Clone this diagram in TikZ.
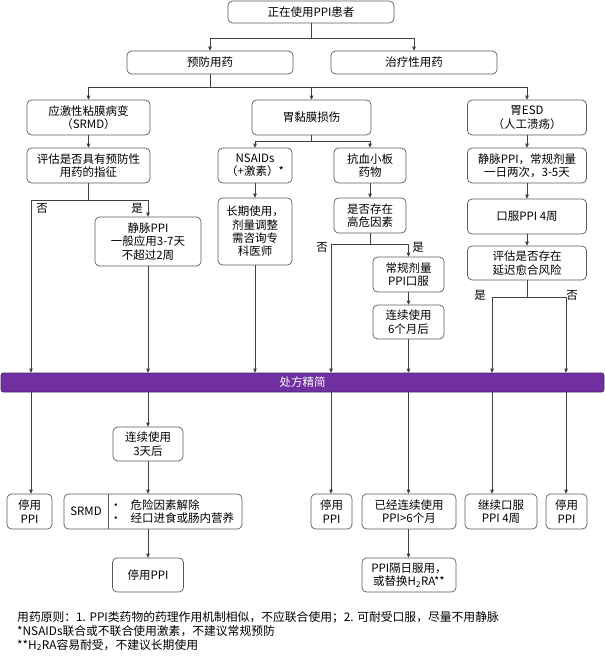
\documentclass[tikz,border=0pt]{standalone}
\usepackage{fontspec}
\setmainfont{Noto Sans CJK SC}
\usetikzlibrary{arrows.meta}
\definecolor{lnc}{HTML}{404040}
\definecolor{bdc}{HTML}{5A5A5A}
\definecolor{purp}{HTML}{7030A0}
\definecolor{purpd}{HTML}{4F2270}
\newcommand\bxfont{\fontsize{11.5}{13.4}\selectfont}
\newcommand\ftfont{\fontsize{11.8}{13.4}\selectfont}
\begin{document}
\begin{tikzpicture}[x=1pt,y=-1pt,
  box/.style={draw=bdc, line width=0.7pt, rounded corners=4.5pt, align=center, inner sep=0pt, font=\bxfont, text=black},
  lnk/.style={draw=lnc, line width=0.7pt},
  arr/.style={draw=lnc, line width=0.7pt, -{Triangle[length=4pt,width=3.6pt]}},
  lbl/.style={font=\bxfont, inner sep=0pt},
  foot/.style={font=\ftfont, inner sep=0pt, anchor=west}]
\useasboundingbox (0,0) rectangle (605,659);
% level 1-2
\node[box, minimum width=166pt, minimum height=22pt] (top) at (311,12) {正在使用PPI患者};
\node[box, minimum width=166pt, minimum height=23pt] (yf) at (210,62.5) {预防用药};
\node[box, minimum width=166pt, minimum height=23pt] (zl) at (414,62.5) {治疗性用药};
% level 3
\node[box, minimum width=123pt, minimum height=35pt] (srmd) at (88.5,117.5) {应激性粘膜病变\\（SRMD）};
\node[box, minimum width=119pt, minimum height=35pt] (wn) at (311.5,117.5) {胃黏膜损伤};
\node[box, minimum width=119pt, minimum height=35pt] (esd) at (527,117.5) {胃ESD\\（人工溃疡）};
% level 4
\node[box, minimum width=123pt, minimum height=35pt] (pg1) at (88.5,165.5) {评估是否具有预防性\\用药的指征};
\node[box, minimum width=74pt, minimum height=35pt] (nsaid) at (255,165.5) {NSAIDs\\（+激素）*};
\node[box, minimum width=72pt, minimum height=35pt] (kx) at (370,165.5) {抗血小板\\药物};
\node[box, minimum width=119pt, minimum height=35pt] (jm1) at (527,165.5) {静脉PPI，常规剂量\\一日两次，3-5天};
% level 5
\node[box, minimum width=106pt, minimum height=49pt] (jm2) at (148,241.5) {静脉PPI\\一般应用3-7天\\不超过2周};
\node[box, minimum width=74pt, minimum height=67pt] (cq) at (255,231.5) {长期使用，\\剂量调整\\需咨询专\\科医师};
\node[box, minimum width=72pt, minimum height=35pt] (gw) at (370,215.5) {是否存在\\高危因素};
\node[box, minimum width=119pt, minimum height=35pt] (kf) at (527,216.5) {口服PPI 4周};
\node[box, minimum width=71pt, minimum height=35pt] (cg) at (408.5,274.5) {常规剂量\\PPI口服};
\node[box, minimum width=71pt, minimum height=34pt] (lx6) at (408.5,322) {连续使用\\6个月后};
\node[box, minimum width=119pt, minimum height=34pt] (pg2) at (527,263) {评估是否存在\\延迟愈合风险};
% bar
\node[draw=purpd, fill=purp, line width=0.7pt, rounded corners=2.5pt, minimum width=603pt, minimum height=19pt, inner sep=0pt, font=\bxfont, text=white] (bar) at (302.5,382.5) {处方精简};
% lower part
\node[box, minimum width=70pt, minimum height=34pt] (lx3) at (148,444) {连续使用\\3天后};
\node[box, minimum width=45pt, minimum height=35pt] (ty1) at (29.5,511.5) {停用\\PPI};
\node[box, minimum width=178pt, minimum height=35pt] (srmd2) at (153,511.5) {};
\node[inner sep=0pt, minimum width=44pt, minimum height=35pt, font=\bxfont] (srmdL) at (86,511.5) {SRMD};
\node[inner sep=0pt, anchor=west, align=left, font=\bxfont] (srmdR) at (110,511.5) {•\hspace{9pt}危险因素解除\\•\hspace{9pt}经口进食或肠内营养};
\node[box, minimum width=41pt, minimum height=35pt] (ty2) at (331.5,511.5) {停用\\PPI};
\node[box, minimum width=94pt, minimum height=35pt] (yj) at (409,511.5) {已经连续使用\\PPI>6个月};
\node[box, minimum width=72pt, minimum height=35pt] (jx) at (501,511.5) {继续口服\\PPI 4周};
\node[box, minimum width=41pt, minimum height=35pt] (ty3) at (566.5,511.5) {停用\\PPI};
\node[box, minimum width=71pt, minimum height=34pt] (ty4) at (148,575) {停用PPI};
\node[box, minimum width=94pt, minimum height=34pt] (gr) at (409,575) {PPI隔日服用，\\或替换H\textsubscript{2}RA**};
\draw[draw=bdc, line width=0.7pt] (srmdL.north east) -- (srmdL.south east);
% connectors
\coordinate (s1) at (311,38);
\draw[lnk] (top.south) -- (s1);
\draw[arr] (s1) -| (yf.north);
\draw[arr] (s1) -| (zl.north);
\coordinate (s2) at (210,87);
\draw[lnk] (yf.south) -- (s2);
\draw[arr] (s2) -| (srmd.north);
\draw[arr] (s2) -| (esd.north);
\draw[arr] (s2 -| wn.north) -- (wn.north);
\draw[arr] (srmd.south) -- (pg1.north);
\coordinate (s3) at (88.5,200);
\coordinate (cL) at (31,200);
\draw[lnk] (pg1.south) -- (s3);
\draw[arr] (s3) -- (cL) -- (cL |- bar.north);
\draw[arr] (s3) -| (jm2.north);
\draw[arr] (jm2.south) -- (jm2.south |- bar.north);
\coordinate (s4) at (311.5,141);
\draw[lnk] (wn.south) -- (s4);
\draw[arr] (s4) -| (nsaid.north);
\draw[arr] (s4) -| (kx.north);
\draw[arr] (nsaid.south) -- (cq.north);
\draw[arr] (cq.south) -- (cq.south |- bar.north);
\draw[arr] (kx.south) -- (gw.north);
\coordinate (s5) at (370,244);
\coordinate (cL2) at (331,244);
\draw[lnk] (gw.south) -- (s5);
\draw[arr] (s5) -- (cL2) -- (cL2 |- bar.north);
\draw[arr] (s5) -| (cg.north);
\draw[arr] (cg.south) -- (lx6.north);
\draw[arr] (lx6.south) -- (lx6.south |- bar.north);
\draw[arr] (esd.south) -- (jm1.north);
\draw[arr] (jm1.south) -- (kf.north);
\draw[arr] (kf.south) -- (pg2.north);
\coordinate (s6) at (527,297);
\coordinate (cL3) at (492,297);
\coordinate (cR3) at (566,297);
\draw[lnk] (pg2.south) -- (s6);
\draw[arr] (s6) -- (cL3) -- (cL3 |- bar.north);
\draw[arr] (s6) -- (cR3) -- (cR3 |- bar.north);
% below bar
\draw[arr] (cL |- bar.south) -- (cL |- ty1.north);
\draw[arr] (lx3.north |- bar.south) -- (lx3.north);
\draw[arr] (lx3.south) -- (lx3.south |- srmd2.north);
\draw[arr] (lx3.south |- srmd2.south) -- (ty4.north);
\draw[arr] (cL2 |- bar.south) -- (cL2 |- ty2.north);
\draw[arr] (lx6.south |- bar.south) -- (lx6.south |- yj.north);
\draw[arr] (lx6.south |- yj.south) -- (lx6.south |- gr.north);
\draw[arr] (cL3 |- bar.south) -- (cL3 |- jx.north);
\draw[arr] (cR3 |- bar.south) -- (cR3 |- ty3.north);
% labels
\node[lbl] (l1) at (42,208) {否};
\node[lbl] (l2) at (137,208) {是};
\node[lbl] (l3) at (322,247) {否};
\node[lbl] (l4) at (418,247) {是};
\node[lbl] (l5) at (480,295) {是};
\node[lbl] (l6) at (572,295) {否};
% footnotes
\node[foot] (f1) at (17,617) {用药原则：1. PPI类药物的药理作用机制相似，不应联合使用；2. 可耐受口服，尽量不用静脉};
\node[foot] (f2) at (17,631) {*NSAIDs联合或不联合使用激素，不建议常规预防};
\node[foot] (f3) at (17,645) {**H\textsubscript{2}RA容易耐受，不建议长期使用};
\end{tikzpicture}
\end{document}
